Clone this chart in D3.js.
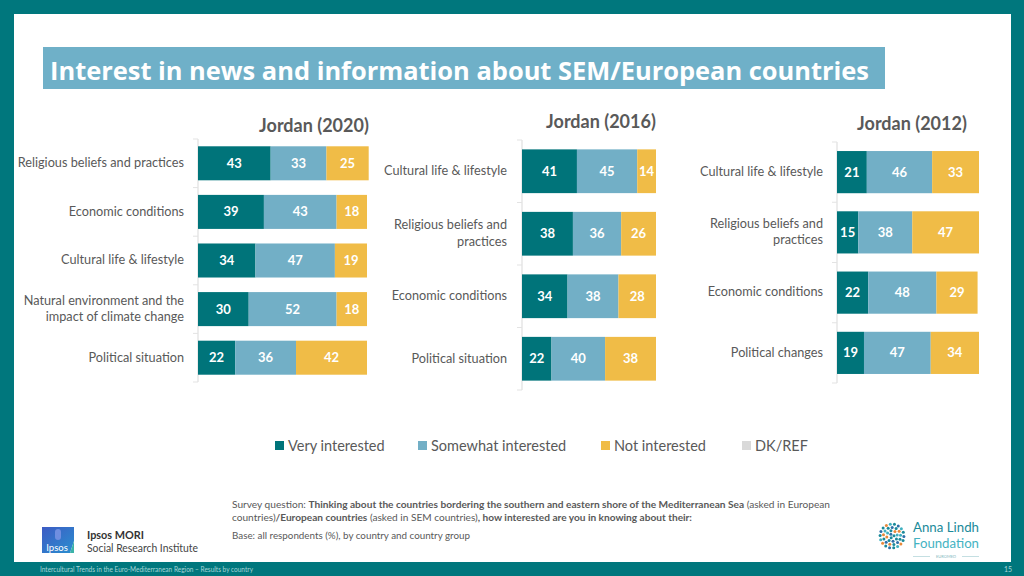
<!DOCTYPE html>
<html><head><meta charset="utf-8">
<script src="https://cdn.jsdelivr.net/npm/d3@7"></script>
<style>body{margin:0;background:#fff;}svg{display:block;font-family:Lato,"Noto Sans",sans-serif;}</style>
</head><body><svg id="c" width="1024" height="576"></svg>
<script>
// ---------- data ----------
const chartTitle = "Interest in news and information about SEM/European countries";
const seriesNames = ["Very interested", "Somewhat interested", "Not interested", "DK/REF"];
const seriesColors = ["#00747a", "#72afc6", "#f0bc47", "#d9d9d9"];

const title2020 = "Jordan (2020)";
const cats2020 = ["Religious beliefs and practices", "Economic conditions", "Cultural life & lifestyle", "Natural environment and the\nimpact of climate change", "Political situation"];
const very2020 = [43, 39, 34, 30, 22];
const some2020 = [33, 43, 47, 52, 36];
const not2020  = [25, 18, 19, 18, 42];
const dk2020   = [0, 0, 0, 0, 0];

const title2016 = "Jordan (2016)";
const cats2016 = ["Cultural life & lifestyle", "Religious beliefs and\npractices", "Economic conditions", "Political situation"];
const very2016 = [41, 38, 34, 22];
const some2016 = [45, 36, 38, 40];
const not2016  = [14, 26, 28, 38];
const dk2016   = [0, 0, 0, 0];

const title2012 = "Jordan (2012)";
const cats2012 = ["Cultural life & lifestyle", "Religious beliefs and\npractices", "Economic conditions", "Political changes"];
const very2012 = [21, 15, 22, 19];
const some2012 = [46, 38, 48, 47];
const not2012  = [33, 47, 29, 34];
const dk2012   = [0, 0, 0, 0];

const surveyLine1 = [["Survey question: ", false], ["Thinking about the countries bordering the southern and eastern shore of the Mediterranean Sea", true], [" (asked in European", false]];
const surveyLine2 = [["countries)", false], ["/European countries", true], [" (asked in SEM countries)", false], [", how interested are you in knowing about their:", true]];
const baseText = "Base: all respondents (%), by country and country group";
const footerText = "Intercultural Trends in the Euro-Mediterranean Region \u2013 Results by country";
const pageNumber = "15";

// ---------- layout ----------
const svg = d3.select("#c");
const TEAL = "#00777d", GREY = "#595959";

svg.append("rect").attr("width", 1024).attr("height", 576).attr("fill", TEAL);
svg.append("rect").attr("x", 14).attr("y", 14).attr("width", 997).attr("height", 548).attr("fill", "#fff");

// title box
svg.append("rect").attr("x", 43).attr("y", 47).attr("width", 842).attr("height", 42).attr("fill", "#6fb0c8");
svg.append("text").attr("x", 50).attr("y", 80).attr("fill", "#fff")
  .attr("font-family", "'Open Sans',sans-serif").attr("font-weight", 700).attr("font-size", 25)
  .attr("textLength", 819).attr("lengthAdjust", "spacingAndGlyphs").text(chartTitle);

const panels = [
  {title: title2020, cats: cats2020, vals: [very2020, some2020, not2020, dk2020], ax: 198, w: 169, y0: 139, y1: 382, tx: 314, ty: 132, lx: 184},
  {title: title2016, cats: cats2016, vals: [very2016, some2016, not2016, dk2016], ax: 522, w: 134, y0: 140, y1: 390, tx: 601, ty: 128, lx: 507},
  {title: title2012, cats: cats2012, vals: [very2012, some2012, not2012, dk2012], ax: 837, w: 142, y0: 142, y1: 383, tx: 912, ty: 130, lx: 823}
];

panels.forEach(p => {
  const g = svg.append("g");
  const x = d3.scaleLinear().domain([0, 100]).range([p.ax, p.ax + p.w]);
  const y = d3.scaleBand().domain(p.cats).range([p.y0, p.y1]).paddingInner(0.3).paddingOuter(0.15);
  const rows = p.cats.map((c, i) => {
    const obj = {cat: c};
    seriesNames.forEach((s, k) => obj[s] = p.vals[k][i]);
    return obj;
  });
  const stacked = d3.stack().keys(seriesNames)(rows);

  // title
  g.append("text").attr("x", p.tx).attr("y", p.ty).attr("text-anchor", "middle")
    .attr("font-weight", 700).attr("font-size", 18).attr("fill", GREY).text(p.title);

  // axis line and ticks
  g.append("line").attr("x1", p.ax).attr("x2", p.ax).attr("y1", p.y0).attr("y2", p.y1)
    .attr("stroke", "#d9d9d9").attr("stroke-width", 1);
  d3.range(p.cats.length + 1).forEach(i => {
    const yy = p.y0 + i * (p.y1 - p.y0) / p.cats.length;
    g.append("line").attr("x1", p.ax - 5).attr("x2", p.ax).attr("y1", yy).attr("y2", yy)
      .attr("stroke", "#e3e3e3").attr("stroke-width", 1);
  });

  // category labels
  p.cats.forEach(c => {
    const lines = c.split("\n");
    const cy = y(c) + y.bandwidth() / 2;
    const t = g.append("text").attr("text-anchor", "end").attr("font-size", 12.7).attr("fill", GREY);
    lines.forEach((ln, j) => {
      t.append("tspan").attr("x", p.lx)
        .attr("y", cy + (j - (lines.length - 1) / 2) * 16.5)
        .attr("dy", "0.3em").text(ln);
    });
  });

  // bars
  stacked.forEach((layer, k) => {
    g.selectAll(null).data(layer).join("rect")
      .attr("x", d => x(d[0])).attr("width", d => x(d[1]) - x(d[0]))
      .attr("y", d => y(d.data.cat)).attr("height", y.bandwidth())
      .attr("fill", seriesColors[k]);
    g.selectAll(null).data(layer.filter(d => d[1] - d[0] > 0)).join("text")
      .attr("x", d => (x(d[0]) + x(d[1])) / 2)
      .attr("y", d => y(d.data.cat) + y.bandwidth() / 2)
      .attr("dy", "0.35em").attr("text-anchor", "middle")
      .attr("font-weight", 700).attr("font-size", 13).attr("fill", "#fff")
      .text(d => d[1] - d[0]);
  });
});

// legend
const legendX = [275, 418, 601, 742];
const lg = svg.append("g");
seriesNames.forEach((s, i) => {
  lg.append("rect").attr("x", legendX[i]).attr("y", 441).attr("width", 9).attr("height", 9).attr("fill", seriesColors[i]);
  lg.append("text").attr("x", legendX[i] + 13).attr("y", 446).attr("dy", "0.35em")
    .attr("font-size", 14.5).attr("fill", GREY).text(s);
});

// survey text
function richLine(parts, yb, len) {
  const t = svg.append("text").attr("x", 232).attr("y", yb).attr("font-size", 9).attr("fill", GREY)
    .attr("textLength", len).attr("lengthAdjust", "spacingAndGlyphs");
  parts.forEach(([txt, b]) => t.append("tspan").attr("font-weight", b ? 700 : 400).text(txt));
}
richLine(surveyLine1, 508, 598);
richLine(surveyLine2, 521, 460);
svg.append("text").attr("x", 232).attr("y", 539).attr("font-size", 9).attr("fill", GREY)
  .attr("textLength", 238).attr("lengthAdjust", "spacingAndGlyphs").text(baseText);

// Ipsos logo
const defs = svg.append("defs");
const grad = defs.append("linearGradient").attr("id", "ipg").attr("x1", 0).attr("y1", 0).attr("x2", 1).attr("y2", 1);
grad.append("stop").attr("offset", "0%").attr("stop-color", "#3d5bc4");
grad.append("stop").attr("offset", "100%").attr("stop-color", "#2a8fcf");
svg.append("path").attr("d", "M42,527 L74,527 L74,541 L70,553 L42,553 Z").attr("fill", "url(#ipg)");
svg.append("path").attr("d", "M70,553 L74,541 L74,553 Z").attr("fill", "#3bb3a8");
svg.append("rect").attr("x", 55).attr("y", 529).attr("width", 6).attr("height", 11).attr("rx", 3).attr("fill", "#6f8ee0");
svg.append("text").attr("x", 57).attr("y", 551).attr("text-anchor", "middle").attr("font-size", 9.5)
  .attr("fill", "#fff").text("Ipsos");
svg.append("text").attr("x", 87).attr("y", 539).attr("font-size", 12).attr("font-weight", 700).attr("fill", "#333")
  .attr("textLength", 57).attr("lengthAdjust", "spacingAndGlyphs").text("Ipsos MORI");
svg.append("text").attr("x", 87).attr("y", 552).attr("font-size", 12).attr("fill", "#444")
  .attr("textLength", 111).attr("lengthAdjust", "spacingAndGlyphs").text("Social Research Institute");

// Anna Lindh logo
const dotCols = ["#1a8a9a", "#e8893a", "#2d6fa8", "#3fb0c0", "#1a8a9a"];
const dots = svg.append("g");
let n = 0;
for (let r = 2; r <= 12; r += 3.3) {
  const cnt = Math.max(1, Math.round(2 * Math.PI * r / 4.2));
  for (let j = 0; j < cnt; j++) {
    const a = j / cnt * 2 * Math.PI + r;
    dots.append("circle").attr("cx", 892 + r * Math.cos(a)).attr("cy", 536 + r * Math.sin(a))
      .attr("r", 1.5).attr("fill", dotCols[(n++ * 7) % dotCols.length]);
  }
}
svg.append("text").attr("x", 913).attr("y", 532).attr("font-size", 13).attr("fill", "#1a8a9a")
  .attr("textLength", 66).attr("lengthAdjust", "spacingAndGlyphs").text("Anna Lindh");
svg.append("text").attr("x", 913).attr("y", 548).attr("font-size", 13).attr("fill", "#45b3c2")
  .attr("textLength", 66).attr("lengthAdjust", "spacingAndGlyphs").text("Foundation");
svg.append("line").attr("x1", 913).attr("x2", 930).attr("y1", 556.5).attr("y2", 556.5).attr("stroke", "#9cc9cf").attr("stroke-width", 0.6);
svg.append("line").attr("x1", 962).attr("x2", 979).attr("y1", 556.5).attr("y2", 556.5).attr("stroke", "#9cc9cf").attr("stroke-width", 0.6);
svg.append("text").attr("x", 946).attr("y", 558).attr("text-anchor", "middle").attr("font-size", 4).attr("fill", "#7fb8c0").text("EUROMED");

// footer
svg.append("text").attr("x", 40).attr("y", 572).attr("font-size", 7).attr("fill", "#a8d6d8")
  .attr("textLength", 213).attr("lengthAdjust", "spacingAndGlyphs").text(footerText);
svg.append("text").attr("x", 1004).attr("y", 572).attr("font-size", 7).attr("fill", "#a8d6d8").text(pageNumber);
</script></body></html>
